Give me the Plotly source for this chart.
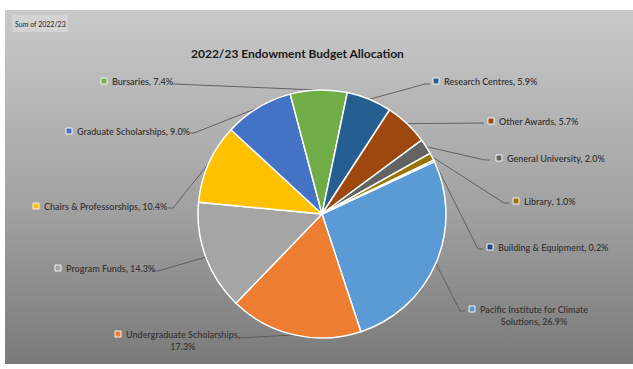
import numpy as np
import plotly.graph_objects as go

W, H = 633, 369

# ---- data -------------------------------------------------------------
categories = [
    "Pacific Institute for Climate Solutions",
    "Undergraduate Scholarships",
    "Program Funds",
    "Chairs & Professorships",
    "Graduate Scholarships",
    "Bursaries",
    "Research Centres",
    "Other Awards",
    "General University",
    "Library",
    "Building & Equipment",
]
shares = [26.9, 17.3, 14.3, 10.4, 9.0, 7.4, 5.9, 5.7, 2.0, 1.0, 0.2]

# ---- styling / layout -------------------------------------------------
slice_colors = [
    "#5B9BD5", "#ED7D31", "#A5A5A5", "#FFC000", "#4472C4", "#70AD47",
    "#255E91", "#9E480E", "#636363", "#997300", "#264478",
]
TITLE = "2022/23 Endowment Budget Allocation"
FIELD_BUTTON = "Sum of 2022/23"
FONT = "Lato, 'Open Sans', sans-serif"
LABEL_COLOR = "#383838"

# pie geometry in pixels (centre and radius), first slice angle
CX, CY, R = 322, 214, 124
ROTATION = 65

# label placement in pixels: text left edge, first-line centre y,
# leader end point, and optional line break position (word index)
label_pos = {
    "Pacific Institute for Climate Solutions": dict(tx=479, ty=309, ex=465, ey=311, side="R", brk=4),
    "Undergraduate Scholarships": dict(tx=125, ty=334, ex=239, ey=338, side="L", brk=2),
    "Program Funds": dict(tx=65, ty=268, ex=153, ey=271, side="L"),
    "Chairs & Professorships": dict(tx=43, ty=206, ex=168, ey=208, side="L"),
    "Graduate Scholarships": dict(tx=76, ty=131, ex=189, ey=133, side="L"),
    "Bursaries": dict(tx=111, ty=81, ex=173, ey=84, side="L"),
    "Research Centres": dict(tx=443, ty=81, ex=430, ey=84, side="R"),
    "Other Awards": dict(tx=498, ty=121, ex=484, ey=123, side="R"),
    "General University": dict(tx=506, ty=158, ex=490, ey=160, side="R"),
    "Library": dict(tx=523, ty=201, ex=509, ey=203, side="R"),
    "Building & Equipment": dict(tx=497, ty=247, ex=483, ey=249, side="R"),
}


def px_x(x):
    return x


def px_y(y):
    return H - y


fig = go.Figure()

# chart-area background: vertical grey gradient
bx0, bx1, by0, by1 = 5, 633, 10, 364
fig.add_trace(go.Scatter(
    x=[bx0, bx1, bx1, bx0, bx0],
    y=[px_y(by0), px_y(by0), px_y(by1), px_y(by1), px_y(by0)],
    mode="none", fill="toself",
    fillgradient=dict(
        type="vertical",
        colorscale=[[0, "#7A7A7A"], [0.45, "#A2A2A2"], [1, "#C9C9C9"]],
        start=px_y(by1), stop=px_y(by0),
    ),
    hoverinfo="skip", showlegend=False,
))

# pie
fig.add_trace(go.Pie(
    labels=categories, values=shares, sort=False,
    direction="clockwise", rotation=ROTATION,
    marker=dict(colors=slice_colors, line=dict(color="white", width=1.5)),
    textinfo="none", hoverinfo="label+percent", showlegend=False,
    domain=dict(x=[(CX - R) / W, (CX + R) / W],
                y=[1 - (CY + R) / H, 1 - (CY - R) / H]),
))

# leader lines from each slice's mid-angle edge to its label
vals = np.array(shares, dtype=float)
total = vals.sum()
start_deg = ROTATION + 360 * (np.cumsum(vals) - vals) / total
mid_deg = start_deg + 180 * vals / total

label_font = dict(family=FONT, size=9, color=LABEL_COLOR, weight=600)

annotations = []
mk_x, mk_y, mk_c = [], [], []
for cat, v, col, mdeg in zip(categories, shares, slice_colors, mid_deg):
    p = label_pos[cat]
    a = np.deg2rad(mdeg)
    edge_x = CX + R * np.sin(a)
    edge_y = CY - R * np.cos(a)
    elbow_x = p["ex"] - 5 if p["side"] == "R" else p["ex"] + 5
    fig.add_trace(go.Scatter(
        x=[px_x(edge_x), px_x(elbow_x), px_x(p["ex"])],
        y=[px_y(edge_y), px_y(p["ey"]), px_y(p["ey"])],
        mode="lines", line=dict(color="#595959", width=0.9),
        hoverinfo="skip", showlegend=False,
    ))

    text = f"{cat}, {v:.1f}%"
    if "brk" in p:
        words = text.split(" ")
        text = " ".join(words[:p["brk"]]) + "<br>" + " ".join(words[p["brk"]:])
        annotations.append(dict(
            x=px_x(p["tx"]), y=px_y(p["ty"] - 6.5), xref="x", yref="y",
            xanchor="left", yanchor="top", align="center", showarrow=False,
            text=text, borderpad=0, font=label_font,
        ))
    else:
        annotations.append(dict(
            x=px_x(p["tx"]), y=px_y(p["ty"]), xref="x", yref="y",
            xanchor="left", yanchor="middle", showarrow=False,
            text=text, borderpad=0, font=label_font,
        ))
    mk_x.append(px_x(p["tx"] - 7))
    mk_y.append(px_y(p["ty"]))
    mk_c.append(col)

# legend keys beside the labels
fig.add_trace(go.Scatter(
    x=mk_x, y=mk_y, mode="markers",
    marker=dict(symbol="square", size=6, color=mk_c,
                line=dict(color="#F2F2F2", width=1)),
    hoverinfo="skip", showlegend=False,
))

# title
annotations.append(dict(
    x=px_x(297), y=px_y(53), xref="x", yref="y",
    xanchor="center", yanchor="middle", showarrow=False,
    text=f"<b>{TITLE}</b>",
    font=dict(family=FONT, size=12, color="#1A1A1A"),
))

# pivot field button
annotations.append(dict(
    x=px_x(40), y=px_y(23.5), xref="x", yref="y",
    xanchor="center", yanchor="middle", showarrow=False,
    text=FIELD_BUTTON,
    font=dict(family=FONT, size=7, color="#262626"),
))

shapes = [dict(
    type="rect", xref="x", yref="y", layer="above",
    x0=px_x(12), x1=px_x(68), y0=px_y(15), y1=px_y(32),
    fillcolor="#D4D4D4", line=dict(width=0),
)]

fig.update_layout(
    width=W, height=H,
    margin=dict(l=0, r=0, t=0, b=0, pad=0),
    paper_bgcolor="white", plot_bgcolor="rgba(0,0,0,0)",
    xaxis=dict(range=[0, W], visible=False, fixedrange=True, domain=[0, 1]),
    yaxis=dict(range=[0, H], visible=False, fixedrange=True, domain=[0, 1]),
    annotations=annotations,
    shapes=shapes,
    showlegend=False,
)

fig.write_html("out.html", config={"displayModeBar": False})
